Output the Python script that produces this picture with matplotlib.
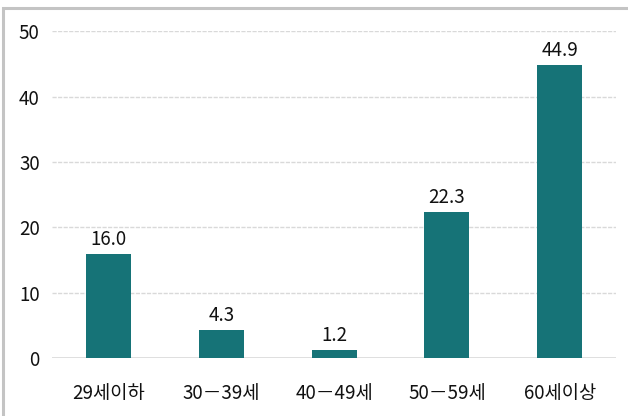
import matplotlib
matplotlib.use("Agg")
from matplotlib import pyplot as plt
from matplotlib.patches import Rectangle

plt.rcParams['font.family'] = ['Noto Sans CJK KR', 'DejaVu Sans']
plt.rcParams['font.weight'] = 'light'

# Data
# ===================================================================================================
categories = ['29세이하', '30－39세', '40－49세', '50－59세', '60세이상']
values = [16.0, 4.3, 1.2, 22.3, 44.9]
yticks = [0, 10, 20, 30, 40, 50]
bar_color = '#167377'

# Figure
# ===================================================================================================
fig = plt.figure(figsize=(6.28, 4.16), dpi=100)
ax = fig.add_axes([0.083, 0.139, 0.898, 0.786])

# outer frame (left and top edges only visible)
fig.patches.append(Rectangle((0.005, -0.1), 1.2, 1.08, transform=fig.transFigure,
                             fill=False, edgecolor='#c4c4c4', linewidth=2.2))

x = range(len(categories))
ax.bar(x, values, width=0.4, color=bar_color, zorder=3)
for xi, v in zip(x, values):
    ax.text(xi, v + 0.6, f"{v:.1f}", ha='center', va='bottom', fontsize=13.5, color='#111111')

ax.set_xlim(-0.5, len(categories) - 0.5)
ax.set_ylim(0, 50)
ax.set_yticks(yticks)
for t in yticks[1:]:
    ax.axhline(t, color='#d9d9d9', linestyle=(0, (3, 1)), linewidth=1, zorder=1)
ax.axhline(0, color='#d9d9d9', linewidth=1.2, zorder=2)

ax.set_xticks(list(x))
ax.set_xticklabels(categories)
ax.tick_params(axis='both', length=0, labelsize=13.5, colors='#111111')
ax.tick_params(axis='x', pad=18)
ax.tick_params(axis='y', pad=9)
for s in ax.spines.values():
    s.set_visible(False)

plt.savefig('out.png', dpi=100)
